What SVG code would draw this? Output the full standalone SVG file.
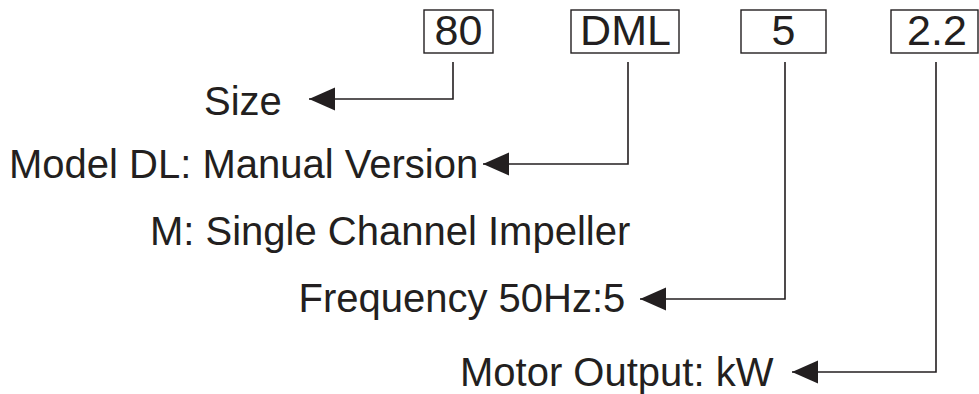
<svg xmlns="http://www.w3.org/2000/svg" width="979" height="394" viewBox="0 0 979 394">
  <style>
    .box { fill: #ffffff; stroke: #231f20; stroke-width: 1.4; }
    .code { font-family: "Liberation Sans", Arial, Helvetica, sans-serif; font-size: 43px; fill: #231f20; text-anchor: middle; }
    .label { font-family: "Liberation Sans", Arial, Helvetica, sans-serif; font-size: 40px; fill: #231f20; }
    .conn { fill: none; stroke: #231f20; stroke-width: 1.6; marker-end: url(#arrow); }
  </style>
  <defs>
    <marker id="arrow" markerUnits="userSpaceOnUse" markerWidth="27" markerHeight="24" refX="26" refY="11.5" orient="auto">
      <path d="M0,0 L26,11.5 L0,23 Z" fill="#231f20"/>
    </marker>
  </defs>
  <rect width="979" height="394" fill="#ffffff"/>

  <g id="code-80">
    <rect class="box" x="424" y="10" width="69" height="43"/>
    <text class="code" x="458.5" y="45">80</text>
  </g>
  <g id="code-DML">
    <rect class="box" x="571" y="10" width="108" height="43"/>
    <text class="code" x="625.5" y="45">DML</text>
  </g>
  <g id="code-5">
    <rect class="box" x="741" y="10" width="85" height="43"/>
    <text class="code" x="783.5" y="45">5</text>
  </g>
  <g id="code-2-2">
    <rect class="box" x="891" y="10" width="87" height="43"/>
    <text class="code" x="937" y="45">2.2</text>
  </g>

  <g id="label-size">
    <text class="label" x="204" y="115">Size</text>
  </g>
  <g id="label-model">
    <text class="label" x="9" y="178">Model DL: Manual Version</text>
  </g>
  <g id="label-impeller">
    <text class="label" x="150" y="245">M: Single Channel Impeller</text>
  </g>
  <g id="label-frequency">
    <text class="label" x="298.5" y="312">Frequency 50Hz:5</text>
  </g>
  <g id="label-motor">
    <text class="label" x="460" y="386">Motor Output: kW</text>
  </g>

  <g id="connectors">
    <path class="conn" d="M453,62 V99 H309"/>
    <path class="conn" d="M628,62 V164 H483"/>
    <path class="conn" d="M785,62 V299 H640"/>
    <path class="conn" d="M936,62 V372 H792"/>
  </g>
</svg>
